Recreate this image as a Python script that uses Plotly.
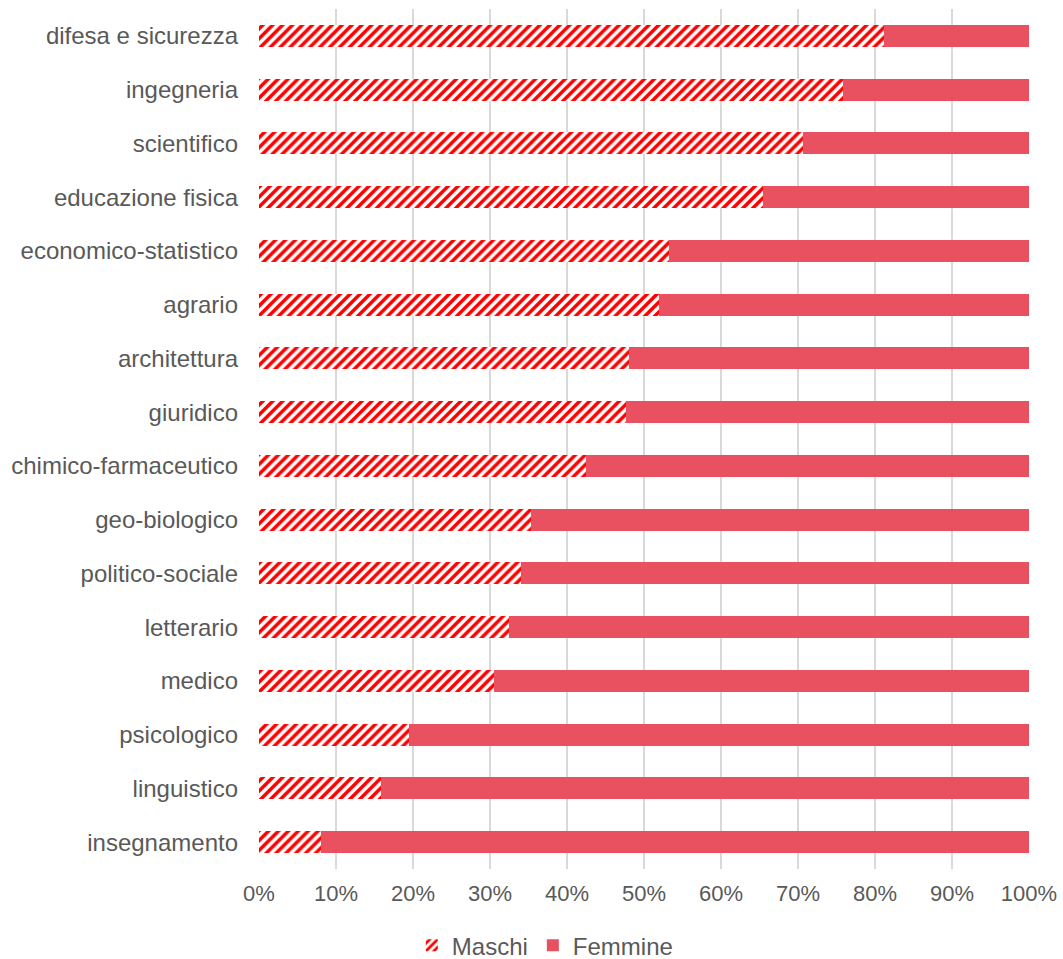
import plotly.graph_objects as go

categorie = [
    "difesa e sicurezza", "ingegneria", "scientifico", "educazione fisica",
    "economico-statistico", "agrario", "architettura", "giuridico",
    "chimico-farmaceutico", "geo-biologico", "politico-sociale", "letterario",
    "medico", "psicologico", "linguistico", "insegnamento",
]
maschi = [81.2, 75.9, 70.6, 65.5, 53.2, 51.9, 48.1, 47.6,
          42.5, 35.3, 34.0, 32.5, 30.5, 19.5, 15.8, 8.0]
femmine = [round(100 - m, 1) for m in maschi]

font_family = "Arial, Liberation Sans, sans-serif"
grigio_testo = "#595959"

fig = go.Figure()
fig.add_trace(go.Bar(
    y=categorie, x=maschi, name="Maschi", orientation="h",
    marker=dict(
        color="white",
        line=dict(width=0),
        pattern=dict(shape="/", fgcolor="#FF0000", bgcolor="white",
                     size=7, solidity=0.5, fillmode="replace"),
    ),
))
fig.add_trace(go.Bar(
    y=categorie, x=femmine, name="Femmine", orientation="h",
    marker=dict(color="#E95161", line=dict(width=0)),
))

fig.update_layout(
    width=1063, height=959,
    barmode="stack", bargap=0.59,
    paper_bgcolor="white", plot_bgcolor="white",
    margin=dict(l=259, r=34, t=9, b=90, autoexpand=False),
    font=dict(family=font_family, size=24, color=grigio_testo),
    legend=dict(orientation="h", xref="container", x=0.513, xanchor="center",
                yref="container", y=0.014, yanchor="middle",
                font=dict(size=24, color=grigio_testo),
                traceorder="normal", itemwidth=30),
    xaxis=dict(range=[0, 100], dtick=10, ticksuffix="%",
               showgrid=True, gridcolor="#D9D9D9", gridwidth=2,
               zeroline=False, showline=False, ticks="",
               ticklabelstandoff=9, automargin=False,
               tickfont=dict(size=22, color=grigio_testo)),
    yaxis=dict(autorange="reversed", showgrid=False, ticks="",
               ticklabelstandoff=20, automargin=False,
               tickfont=dict(size=24, color=grigio_testo)),
)

fig.write_html("out.html")
